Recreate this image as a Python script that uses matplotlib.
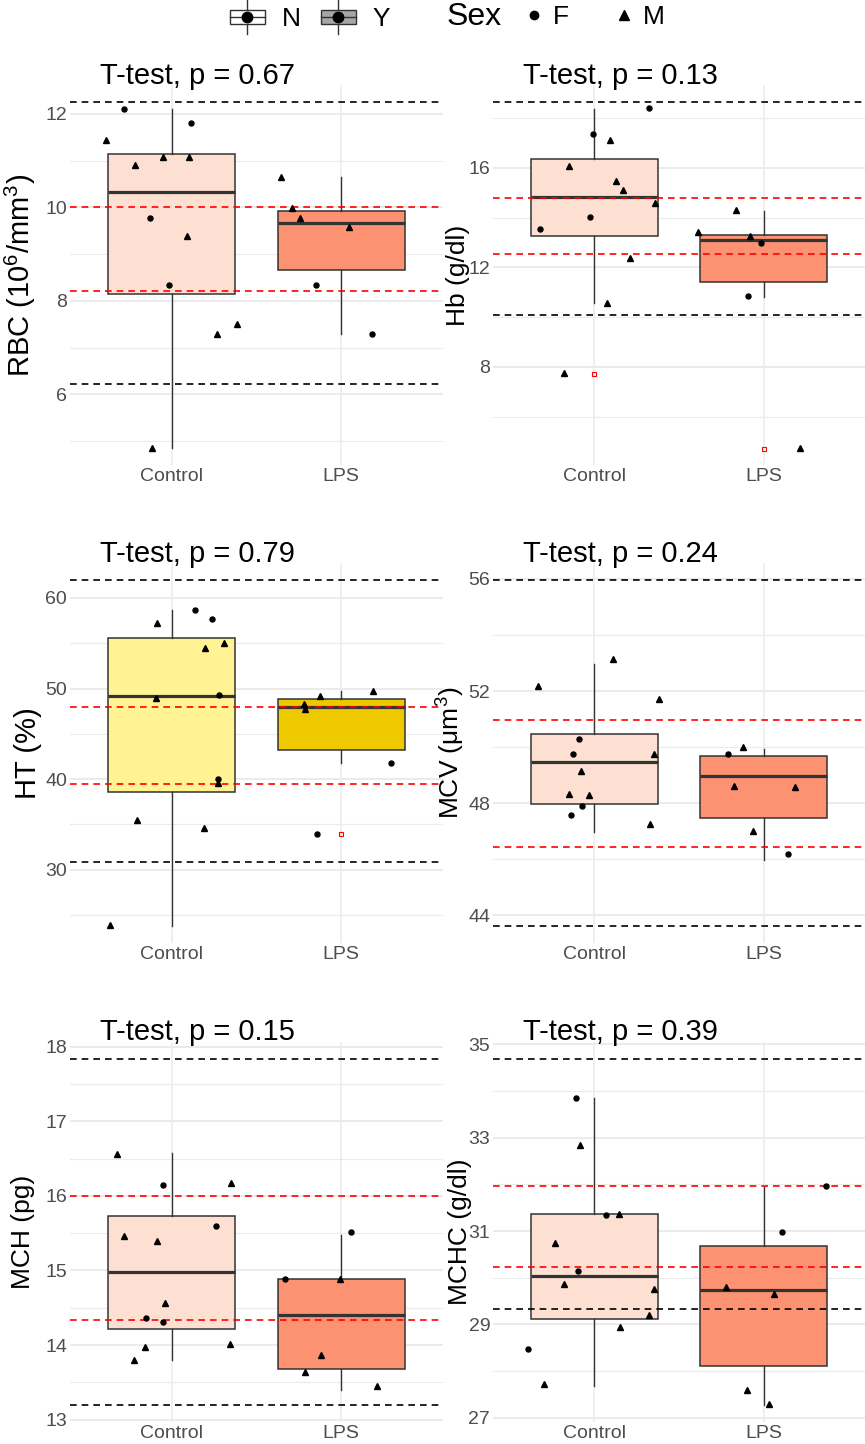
import numpy as np
import matplotlib
matplotlib.use("Agg")
import matplotlib.pyplot as plt
from matplotlib.patches import Rectangle, Patch
from matplotlib.lines import Line2D
from matplotlib.legend_handler import HandlerBase
from matplotlib.ticker import MultipleLocator

plt.rcParams['font.family'] = ['Liberation Sans', 'DejaVu Sans']
plt.rcParams['mathtext.fontset'] = 'custom'
plt.rcParams['mathtext.rm'] = 'Liberation Sans'
plt.rcParams['mathtext.it'] = 'Liberation Sans:italic'

groups = ['Control', 'LPS']

# ---- RBC
rbc_ctrl = [11.44, 12.11, 10.91, 11.07, 9.77, 9.39, 8.34, 11.80, 11.07, 7.30, 7.50, 4.86]
rbc_ctrl_sex = ['M', 'F', 'M', 'M', 'F', 'M', 'F', 'F', 'M', 'M', 'M', 'M']
rbc_ctrl_dx = [-0.386, -0.284, -0.216, -0.053, -0.127, 0.090, -0.014, 0.116, 0.102, 0.267, 0.384, -0.116]
rbc_lps = [10.66, 9.99, 9.77, 9.59, 8.34, 7.30]
rbc_lps_sex = ['M', 'M', 'M', 'M', 'F', 'F']
rbc_lps_dx = [-0.357, -0.288, -0.245, 0.047, -0.149, 0.182]
rbc_box = [(4.86, 8.14, 10.34, 11.14, 12.10), (7.30, 8.66, 9.66, 9.93, 10.66)]
rbc_out = [[], []]
rbc_black = [6.23, 12.25]
rbc_red = [8.21, 10.00]

# ---- Hb
hb_ctrl = [17.37, 17.13, 18.42, 16.09, 15.49, 15.10, 14.58, 14.01, 13.54, 12.36, 10.55, 7.76]
hb_ctrl_sex = ['F', 'M', 'F', 'M', 'M', 'M', 'M', 'F', 'F', 'M', 'M', 'M']
hb_ctrl_dx = [-0.008, 0.091, 0.320, -0.152, 0.130, 0.168, 0.361, -0.026, -0.320, 0.211, 0.075, -0.181]
hb_lps = [13.41, 14.31, 13.26, 12.97, 10.87, 4.75]
hb_lps_sex = ['M', 'M', 'M', 'F', 'F', 'M']
hb_lps_dx = [-0.385, -0.160, -0.083, -0.014, -0.091, 0.213]
hb_box = [(10.56, 13.25, 14.85, 16.34, 18.38), (10.83, 11.40, 13.10, 13.32, 14.28)]
hb_out = [[7.70], [4.70]]
hb_black = [10.09, 18.64]
hb_red = [12.52, 14.78]

# ---- HT
ht_ctrl = [57.24, 58.71, 57.68, 54.48, 55.03, 48.96, 49.25, 40.01, 39.57, 35.45, 34.60, 23.89]
ht_ctrl_sex = ['M', 'F', 'F', 'M', 'M', 'M', 'F', 'F', 'M', 'M', 'M', 'M']
ht_ctrl_dx = [-0.089, 0.138, 0.240, 0.197, 0.311, -0.091, 0.276, 0.274, 0.270, -0.205, 0.189, -0.366]
ht_lps = [48.30, 47.70, 49.14, 49.70, 41.78, 33.98]
ht_lps_sex = ['M', 'M', 'M', 'M', 'F', 'F']
ht_lps_dx = [-0.218, -0.215, -0.126, 0.185, 0.295, -0.144]
ht_box = [(23.82, 38.54, 49.22, 55.58, 58.71), (41.78, 43.25, 47.96, 48.85, 49.70)]
ht_out = [[], [33.98]]
ht_black = [30.81, 61.95]
ht_red = [39.50, 47.96]

# ---- MCV
mcv_ctrl = [52.18, 53.16, 51.72, 50.29, 49.77, 49.76, 49.16, 48.34, 48.29, 47.91, 47.59, 47.26]
mcv_ctrl_sex = ['M', 'M', 'M', 'F', 'F', 'M', 'M', 'M', 'M', 'F', 'F', 'M']
mcv_ctrl_dx = [-0.331, 0.110, 0.380, -0.094, -0.125, 0.351, -0.080, -0.153, -0.031, -0.076, -0.141, 0.327]
mcv_lps = [49.77, 50.00, 48.60, 48.59, 47.00, 46.19]
mcv_lps_sex = ['F', 'M', 'M', 'M', 'M', 'F']
mcv_lps_dx = [-0.208, -0.122, -0.176, 0.186, -0.063, 0.145]
mcv_box = [(46.98, 47.96, 49.47, 50.46, 52.97), (45.96, 47.47, 48.98, 49.70, 49.94)]
mcv_out = [[], []]
mcv_black = [43.63, 55.95]
mcv_red = [46.45, 50.97]

# ---- MCH
mch_ctrl = [16.56, 16.15, 16.17, 15.60, 15.46, 15.40, 14.57, 14.36, 14.31, 13.98, 14.02, 13.80]
mch_ctrl_sex = ['M', 'F', 'M', 'F', 'M', 'M', 'M', 'F', 'F', 'M', 'M', 'M']
mch_ctrl_dx = [-0.320, -0.049, 0.348, 0.263, -0.283, -0.088, -0.039, -0.149, -0.049, -0.159, 0.344, -0.224]
mch_lps = [14.88, 14.89, 15.52, 13.87, 13.64, 13.45]
mch_lps_sex = ['F', 'M', 'F', 'M', 'M', 'M']
mch_lps_dx = [-0.332, -0.006, 0.055, -0.118, -0.214, 0.210]
mch_box = [(13.80, 14.22, 14.98, 15.73, 16.57), (13.40, 13.68, 14.40, 14.88, 15.48)]
mch_out = [[], []]
mch_black = [13.20, 17.83]
mch_red = [14.34, 16.00]

# ---- MCHC
mchc_ctrl = [33.86, 32.85, 31.35, 31.36, 30.75, 30.15, 29.87, 29.76, 29.20, 28.95, 28.48, 27.72]
mchc_ctrl_sex = ['F', 'M', 'F', 'M', 'M', 'F', 'M', 'M', 'M', 'M', 'F', 'M']
mchc_ctrl_dx = [-0.112, -0.083, 0.069, 0.148, -0.231, -0.100, -0.181, 0.351, 0.320, 0.152, -0.393, -0.298]
mchc_lps = [31.96, 30.98, 29.80, 29.66, 27.59, 27.29]
mchc_lps_sex = ['F', 'F', 'M', 'M', 'M', 'M']
mchc_lps_dx = [0.371, 0.112, -0.225, 0.063, -0.097, 0.032]
mchc_box = [(27.68, 29.12, 30.03, 31.36, 33.84), (27.28, 28.10, 29.73, 30.68, 31.95)]
mchc_out = [[], []]
mchc_black = [29.32, 34.68]
mchc_red = [30.23, 31.96]

p_values = [0.67, 0.13, 0.79, 0.24, 0.15, 0.39]

red_fill = ['#FDE0D2', '#FC9272']
yel_fill = ['#FFF394', '#EEC900']


class BoxKey(HandlerBase):
    def create_artists(self, legend, orig_handle, xdescent, ydescent,
                       width, height, fontsize, trans):
        x0, y0 = -xdescent, -ydescent
        cx, cy = x0 + width / 2, y0 + height / 2
        bh = height * 0.52
        wl = Line2D([cx, cx], [y0 - 2, y0 + height + 2], color='#333333', lw=1.0, transform=trans)
        box = Rectangle((x0, cy - bh / 2), width, bh, facecolor=orig_handle.get_facecolor(),
                        edgecolor='#333333', lw=1.0, transform=trans)
        med = Line2D([x0, x0 + width], [cy, cy], color='#333333', lw=1.0, transform=trans)
        dot = Line2D([cx], [cy], marker='o', ms=7.5, color='black', ls='none', transform=trans)
        return [wl, box, med, dot]


def draw_panel(ax, ctrl, ctrl_sex, ctrl_dx, lps, lps_sex, lps_dx, box, out,
               black, red, fills, p, ylabel, ylab_size, ylab_x, major, offset=0):
    stats = []
    for b, o in zip(box, out):
        stats.append(dict(whislo=b[0], q1=b[1], med=b[2], q3=b[3], whishi=b[4], fliers=o))
    bp = ax.bxp(stats, positions=[1, 2], widths=0.75, patch_artist=True, showcaps=False,
                boxprops=dict(edgecolor='#333333', lw=1.1),
                medianprops=dict(color='#333333', lw=2.3),
                whiskerprops=dict(color='#333333', lw=1.0),
                flierprops=dict(marker='s', markerfacecolor='none', markeredgecolor='red',
                                ms=3.5, mew=0.8),
                zorder=2)
    for patch, fc in zip(bp['boxes'], fills):
        patch.set_facecolor(fc)

    for pos, vals, sex, dx in [(1, ctrl, ctrl_sex, ctrl_dx), (2, lps, lps_sex, lps_dx)]:
        vals = np.array(vals)
        sex = np.array(sex)
        xs = pos + np.array(dx)
        f = sex == 'F'
        ax.plot(xs[f], vals[f], 'o', color='black', ms=3.6, zorder=4)
        ax.plot(xs[~f], vals[~f], '^', color='black', ms=4.3, zorder=4)

    for v in black:
        ax.axhline(v, color='black', ls=(0, (4, 3)), lw=1.2, zorder=3)
    for v in red:
        ax.axhline(v, color='red', ls=(0, (4, 3)), lw=1.2, zorder=3)

    allv = list(ctrl) + list(lps) + list(black) + list(red) + [b[0] for b in box] + [b[4] for b in box]
    lo, hi = min(allv), max(allv)
    pad = (hi - lo) * 0.05
    ax.set_ylim(lo - pad, hi + pad)
    ax.set_xlim(0.4, 2.6)
    ax.set_xticks([1, 2])
    ax.set_xticklabels(groups)
    ax.yaxis.set_major_locator(MultipleLocator(major, offset=offset))
    ax.yaxis.set_minor_locator(MultipleLocator(major / 2))
    ax.grid(True, which='major', axis='y', color='#EBEBEB', lw=1.4, zorder=0)
    ax.grid(True, which='minor', axis='y', color='#EBEBEB', lw=0.8, zorder=0)
    ax.grid(True, which='major', axis='x', color='#EBEBEB', lw=1.1, zorder=0)
    ax.set_axisbelow(True)
    for s in ax.spines.values():
        s.set_visible(False)
    ax.tick_params(axis='both', which='both', length=0, labelsize=14, labelcolor='#4D4D4D')
    ax.tick_params(axis='y', pad=2)
    ax.tick_params(axis='x', pad=2)
    ax.set_ylabel(ylabel, fontsize=ylab_size, color='black')
    ax.yaxis.set_label_coords(ylab_x, 0.5)
    ax.text(0.08, 1.025, f'T-test, p = {p:.2f}', transform=ax.transAxes, fontsize=21,
            ha='left', va='center', clip_on=False)


W, H = 865, 1444
fig = plt.figure(figsize=(W / 100, H / 100), dpi=100)

cols = [(70, 443), (493, 865)]
tops = [85, 563, 1042]
ph = 380


def make_ax(r, c):
    x0, x1 = cols[c]
    top = tops[r]
    return fig.add_axes([x0 / W, 1 - (top + ph) / H, (x1 - x0) / W, ph / H])


draw_panel(make_ax(0, 0), rbc_ctrl, rbc_ctrl_sex, rbc_ctrl_dx, rbc_lps, rbc_lps_sex, rbc_lps_dx,
           rbc_box, rbc_out, rbc_black, rbc_red, red_fill, p_values[0],
           r'RBC (10$^6$/mm$^3$)', 21, -0.085, 2)
draw_panel(make_ax(0, 1), hb_ctrl, hb_ctrl_sex, hb_ctrl_dx, hb_lps, hb_lps_sex, hb_lps_dx,
           hb_box, hb_out, hb_black, hb_red, red_fill, p_values[1],
           'Hb (g/dl)', 19, -0.062, 4)
draw_panel(make_ax(1, 0), ht_ctrl, ht_ctrl_sex, ht_ctrl_dx, ht_lps, ht_lps_sex, ht_lps_dx,
           ht_box, ht_out, ht_black, ht_red, yel_fill, p_values[2],
           'HT (%)', 21, -0.075, 10)
draw_panel(make_ax(1, 1), mcv_ctrl, mcv_ctrl_sex, mcv_ctrl_dx, mcv_lps, mcv_lps_sex, mcv_lps_dx,
           mcv_box, mcv_out, mcv_black, mcv_red, red_fill, p_values[3],
           r'MCV (μm$^3$)', 19, -0.070, 4)
draw_panel(make_ax(2, 0), mch_ctrl, mch_ctrl_sex, mch_ctrl_dx, mch_lps, mch_lps_sex, mch_lps_dx,
           mch_box, mch_out, mch_black, mch_red, red_fill, p_values[4],
           'MCH (pg)', 19, -0.094, 1)
draw_panel(make_ax(2, 1), mchc_ctrl, mchc_ctrl_sex, mchc_ctrl_dx, mchc_lps, mchc_lps_sex, mchc_lps_dx,
           mchc_box, mchc_out, mchc_black, mchc_red, red_fill, p_values[5],
           'MCHC (g/dl)', 19, -0.056, 2, offset=1)

# legend on top
leg1 = fig.legend([Patch(facecolor='white'), Patch(facecolor='#A6A6A6')], ['N', 'Y'],
                  handler_map={Patch: BoxKey()}, loc='center', bbox_to_anchor=(310 / W, 1 - 17 / H),
                  ncol=2, frameon=False, fontsize=19, handlelength=1.33, handleheight=1.25,
                  handletextpad=0.65, columnspacing=0.75, borderpad=0, borderaxespad=0)
fig.text(447 / W, 1 - 17 / H, 'Sex', fontsize=23, ha='left', va='center')
leg2 = fig.legend([Line2D([], [], marker='o', color='black', ls='none', ms=6),
                   Line2D([], [], marker='^', color='black', ls='none', ms=7)], ['F', 'M'],
                  loc='center', bbox_to_anchor=(594 / W, 1 - 17 / H), ncol=2, frameon=False,
                  fontsize=19, handlelength=0.8, handletextpad=0.3, columnspacing=1.7,
                  borderpad=0, borderaxespad=0)

fig.savefig('out.png', dpi=100)
